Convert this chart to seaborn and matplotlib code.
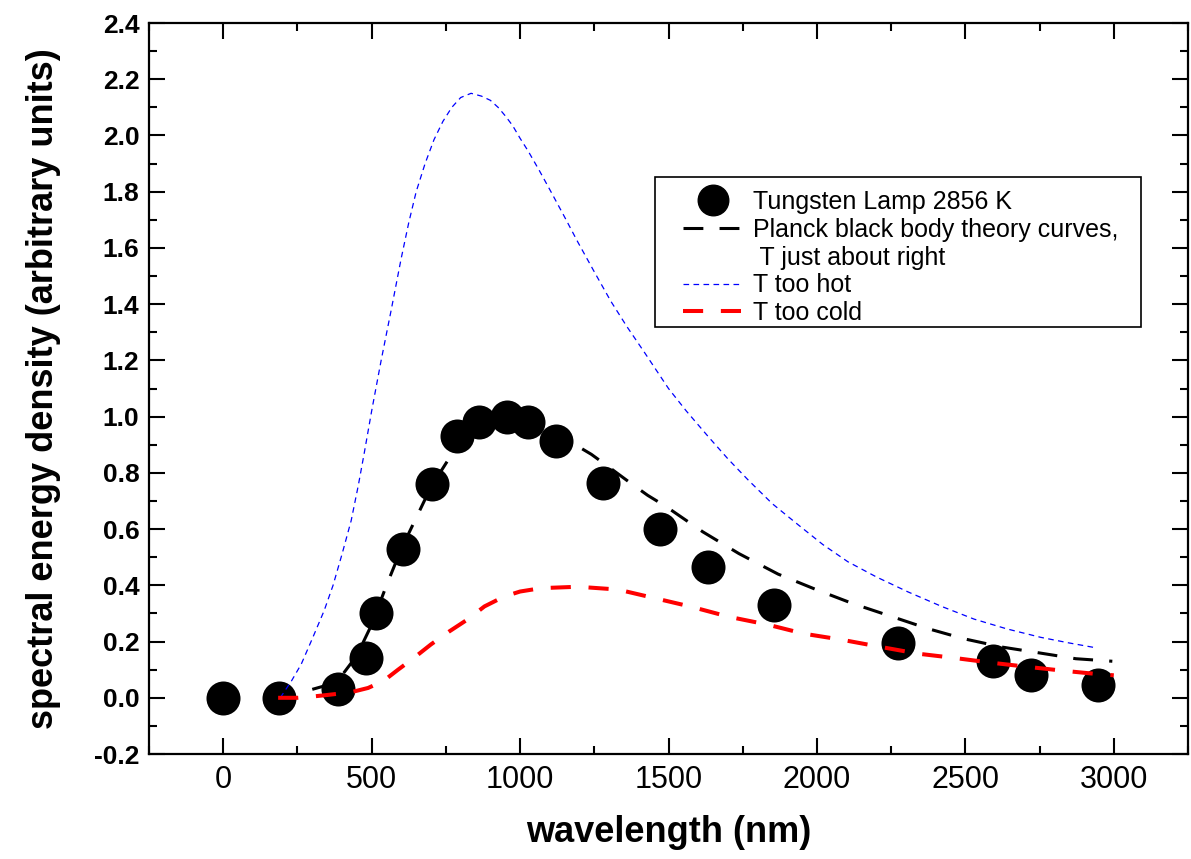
import matplotlib
matplotlib.use("Agg")
import matplotlib.pyplot as plt
from matplotlib.lines import Line2D
from matplotlib.patches import Rectangle
from matplotlib.ticker import MultipleLocator, FormatStrFormatter
import seaborn as sns

# measured lamp spectrum
lamp_wl = [0, 187, 385, 480, 513, 606, 704, 788, 862, 955, 1026, 1121, 1281,
           1472, 1633, 1855, 2273, 2593, 2720, 2946]
lamp_e = [0.0, 0.0, 0.03, 0.14, 0.30, 0.53, 0.76, 0.93, 0.98, 1.0, 0.98, 0.915,
          0.765, 0.60, 0.465, 0.33, 0.195, 0.13, 0.08, 0.047]

# Planck curve, T about right
right_wl = [300, 350, 400, 450, 500, 550, 600, 650, 700, 760, 820, 880, 950,
            1020, 1100, 1170, 1240, 1300, 1364, 1430, 1492, 1616, 1737, 1869,
            1997, 2121, 2249, 2374, 2495, 2626, 2747, 2872, 2995]
right_e = [0.03, 0.045, 0.08, 0.15, 0.26, 0.40, 0.53, 0.64, 0.75, 0.85, 0.93,
           0.975, 1.0, 0.99, 0.955, 0.91, 0.866, 0.82, 0.77, 0.72, 0.68, 0.59,
           0.513, 0.44, 0.385, 0.335, 0.29, 0.246, 0.21, 0.18, 0.16, 0.139, 0.13]

# T too hot
hot_wl = [192, 230, 263, 300, 340, 370, 400, 431, 455, 475, 500, 532, 566, 599,
          625, 650, 680, 710, 740, 770, 800, 835, 870, 900, 926, 950, 975,
          1000, 1027, 1065, 1104, 1150, 1195, 1250, 1306, 1360, 1418, 1500,
          1560, 1633, 1700, 1768, 1850, 1936, 2020, 2104, 2200, 2306, 2420,
          2529, 2640, 2754, 2850, 2939]
hot_e = [0.0, 0.06, 0.12, 0.21, 0.31, 0.40, 0.51, 0.63, 0.755, 0.87, 1.02,
         1.20, 1.38, 1.56, 1.69, 1.80, 1.90, 1.985, 2.05, 2.10, 2.135, 2.15,
         2.14, 2.125, 2.10, 2.07, 2.035, 1.99, 1.945, 1.875, 1.80, 1.71, 1.62,
         1.515, 1.41, 1.32, 1.23, 1.10, 1.02, 0.93, 0.85, 0.775, 0.69, 0.616,
         0.545, 0.484, 0.43, 0.377, 0.325, 0.28, 0.245, 0.215, 0.195, 0.178]

# T too cold
cold_wl = [185, 250, 296, 350, 400, 431, 488, 540, 589, 640, 700, 760, 825,
           880, 946, 1000, 1071, 1195, 1330, 1451, 1576, 1704, 1835, 1956,
           2081, 2209, 2340, 2461, 2586, 2710, 2832, 2939, 3000]
cold_e = [0.0, 0.0, 0.004, 0.01, 0.016, 0.02, 0.035, 0.06, 0.10, 0.14, 0.19,
          0.235, 0.28, 0.325, 0.36, 0.378, 0.39, 0.395, 0.385, 0.355, 0.324,
          0.288, 0.26, 0.228, 0.207, 0.182, 0.157, 0.142, 0.125, 0.11, 0.096,
          0.085, 0.08]

sns.set_theme(style="white")
plt.rcParams["font.family"] = ["Liberation Sans", "DejaVu Sans"]
plt.rcParams["text.color"] = "black"
plt.rcParams["axes.labelcolor"] = "black"
plt.rcParams["xtick.color"] = "black"
plt.rcParams["ytick.color"] = "black"

fig = plt.figure(figsize=(11.91, 8.59), dpi=100)
ax = fig.add_axes([0.1251, 0.1222, 0.8724, 0.851])

sns.scatterplot(x=lamp_wl, y=lamp_e, ax=ax, color="black", s=600,
                edgecolor="black", linewidth=0, zorder=2, legend=False)
sns.lineplot(x=right_wl, y=right_e, ax=ax, color="black", lw=2.2,
             linestyle=(0, (6.5, 5.3)), sort=False, errorbar=None, zorder=3,
             legend=False)
sns.lineplot(x=hot_wl, y=hot_e, ax=ax, color="blue", lw=0.9,
             linestyle=(0, (4.5, 3.5)), sort=False, errorbar=None, zorder=3,
             legend=False)
sns.lineplot(x=cold_wl, y=cold_e, ax=ax, color="red", lw=2.9,
             linestyle=(0, (5.0, 4.4)), sort=False, errorbar=None, zorder=3,
             legend=False)

ax.set_xlim(-250, 3250)
ax.set_ylim(-0.2, 2.4)
ax.xaxis.set_major_locator(MultipleLocator(500))
ax.xaxis.set_minor_locator(MultipleLocator(250))
ax.yaxis.set_major_locator(MultipleLocator(0.2))
ax.yaxis.set_minor_locator(MultipleLocator(0.1))
ax.yaxis.set_major_formatter(FormatStrFormatter("%.1f"))

for sp in ax.spines.values():
    sp.set_visible(True)
    sp.set_color("black")
    sp.set_linewidth(1.6)

ax.tick_params(which="both", direction="in", top=True, right=True,
               bottom=True, left=True, color="black", width=1.5)
ax.tick_params(which="major", length=11.5)
ax.tick_params(which="minor", length=6)
ax.tick_params(axis="x", which="major", labelsize=22, pad=8)
ax.tick_params(axis="y", which="major", labelsize=19, pad=7)
for t in ax.get_yticklabels():
    t.set_fontweight("bold")

ax.set_xlabel("wavelength (nm)", fontsize=26, fontweight="bold", labelpad=14)
ax.set_ylabel("spectral energy density (arbitrary units)", fontsize=26,
              fontweight="bold", labelpad=24)

# legend box drawn separately so the handles can sit inset like the original
ax.add_patch(Rectangle((655 / 1191, 1 - 327 / 859), 486 / 1191, 150 / 859,
                       transform=fig.transFigure, clip_on=False, fill=True,
                       facecolor="white", edgecolor="black", lw=1.2,
                       zorder=4))

handles = [
    Line2D([], [], marker="o", color="black", linestyle="none", markersize=22),
    Line2D([], [], color="black", lw=2.2, linestyle=(0, (6.5, 5.3))),
    Line2D([], [], color="none"),
    Line2D([], [], color="blue", lw=0.9, linestyle=(0, (4.5, 3.5))),
    Line2D([], [], color="red", lw=2.9, linestyle=(0, (5.0, 4.4))),
]
labels = ["Tungsten Lamp 2856 K", "Planck black body theory curves,",
          " T just about right", "T too hot", "T too cold"]
leg = ax.legend(handles, labels, loc="upper left",
                bbox_to_anchor=(683 / 1191, 1 - 190 / 859),
                bbox_transform=fig.transFigure, fontsize=18, frameon=False,
                handlelength=2.36, handletextpad=0.45, labelspacing=0.15,
                borderpad=0, borderaxespad=0)
leg.set_zorder(5)

fig.savefig("out.png", dpi=100)
